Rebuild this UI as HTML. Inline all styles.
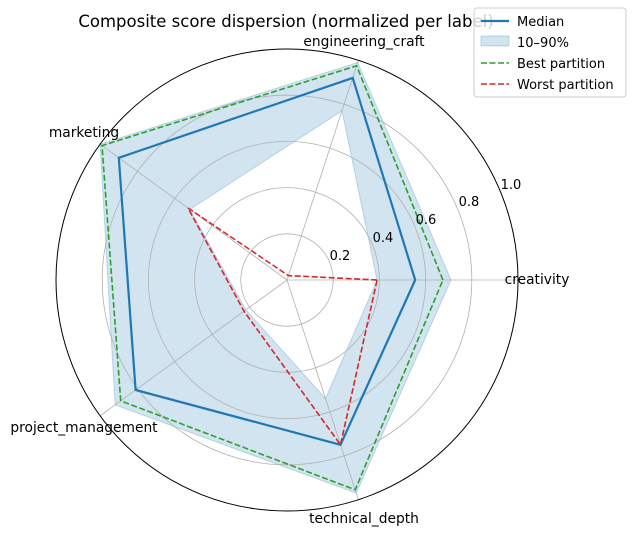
<!DOCTYPE html>
<html><head><meta charset="utf-8"><style>
body{margin:0;background:#fff;}
svg{display:block;font-family:"DejaVu Sans","Liberation Sans",sans-serif;}
</style></head><body>
<svg id="s" width="636" height="535" xmlns="http://www.w3.org/2000/svg"></svg>
<script>
const s=document.getElementById('s');
const cx=287,cy=280,R=231;
const ang=[0,72,144,216,288].map(a=>a*Math.PI/180);
function pt(r,i){return [cx+r*R*Math.cos(ang[i]),cy-r*R*Math.sin(ang[i])];}
function poly(v){return v.map((r,i)=>pt(r,i)).map(p=>p[0].toFixed(1)+','+p[1].toFixed(1)).join(' ');}
function path(v){const p=v.map((r,i)=>pt(r,i));return 'M'+p.map(q=>q[0].toFixed(1)+' '+q[1].toFixed(1)).join(' L')+' Z';}
let h='';
const upper=[0.71,0.99,1.0,0.92,0.97],lower=[0.39,0.77,0.52,0.22,0.54];
h+=`<path d="${path(upper)} ${path(lower)}" fill="#1f77b4" fill-opacity="0.2" fill-rule="evenodd" stroke="#1f77b4" stroke-opacity="0.25" stroke-width="1"/>`;
[0.2,0.4,0.6,0.8].forEach(r=>h+=`<circle cx="${cx}" cy="${cy}" r="${r*R}" fill="none" stroke="#b0b0b0" stroke-width="0.8"/>`);
for(let i=0;i<5;i++){const p=pt(1,i);h+=`<line x1="${cx}" y1="${cy}" x2="${p[0]}" y2="${p[1]}" stroke="#b0b0b0" stroke-width="0.8"/>`;}
h+=`<circle cx="${cx}" cy="${cy}" r="${R}" fill="none" stroke="#000" stroke-width="1"/>`;
h+=`<polygon points="${poly([0.555,0.92,0.90,0.81,0.75])}" fill="none" stroke="#1f77b4" stroke-width="2.2"/>`;
h+=`<polygon points="${poly([0.675,0.975,0.99,0.89,0.955])}" fill="none" stroke="#2ca02c" stroke-width="1.6" stroke-dasharray="6,2.5"/>`;
h+=`<polygon points="${poly([0.39,0.02,0.53,0.23,0.75])}" fill="none" stroke="#d62728" stroke-width="1.6" stroke-dasharray="6,2.5"/>`;
const rl=[[340,260,'0.2'],[383,242,'0.4'],[426,224,'0.6'],[469,206,'0.8'],[511,189,'1.0']];
rl.forEach(t=>h+=`<text x="${t[0]}" y="${t[1]}" font-size="13" text-anchor="middle">${t[2]}</text>`);
const al=[[537,284,'creativity'],[364,46,'engineering_craft'],[84,137,'marketing'],[84,432,'project_management'],[364,523,'technical_depth']];
al.forEach(t=>h+=`<text x="${t[0]}" y="${t[1]}" font-size="13.8" text-anchor="middle">${t[2]}</text>`);
h+=`<text x="286" y="27" font-size="16.5" text-anchor="middle">Composite score dispersion (normalized per label)</text>`;
h+=`<rect x="474" y="8" width="152" height="89" rx="3" fill="#fff" fill-opacity="0.8" stroke="#ccc"/>`;
h+=`<line x1="481" y1="21" x2="509" y2="21" stroke="#1f77b4" stroke-width="2.2"/>`;
h+=`<rect x="481" y="36" width="28" height="10" fill="#1f77b4" fill-opacity="0.2" stroke="#1f77b4" stroke-opacity="0.25"/>`;
h+=`<line x1="481" y1="63" x2="509" y2="63" stroke="#2ca02c" stroke-width="1.6" stroke-dasharray="6,2.5"/>`;
h+=`<line x1="481" y1="84" x2="509" y2="84" stroke="#d62728" stroke-width="1.6" stroke-dasharray="6,2.5"/>`;
[['Median',26],['10–90%',47],['Best partition',68],['Worst partition',89]].forEach(t=>h+=`<text x="517" y="${t[1]}" font-size="13">${t[0]}</text>`);
s.innerHTML=h;
</script>
</body></html>
